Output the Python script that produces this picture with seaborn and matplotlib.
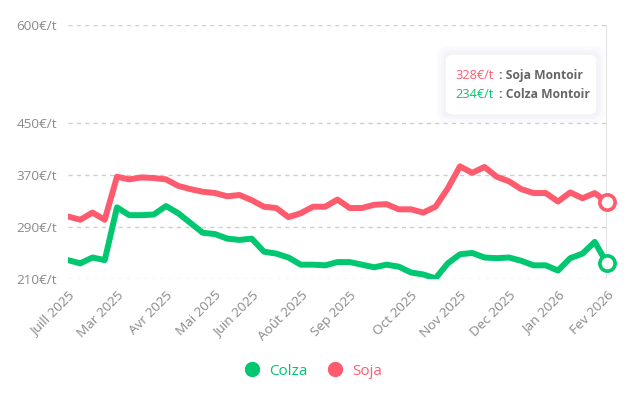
import numpy as np
import pandas as pd
import matplotlib.pyplot as plt
import seaborn as sns
from matplotlib.lines import Line2D
from matplotlib.patches import FancyBboxPatch

# weekly prices, €/t
soja = [306, 301, 312, 301, 367, 363, 366, 365, 363, 353, 348, 344, 342, 337, 339,
        331, 321, 319, 305, 311, 321, 321, 332, 319, 319, 324, 325, 317, 317, 312,
        321, 349, 383, 373, 382, 367, 360, 348, 342, 342, 329, 343, 334, 342, 328]
colza = [239, 234, 243, 239, 320, 308, 308, 309, 322, 311, 296, 281, 279, 272, 270,
         272, 252, 249, 243, 232, 232, 231, 236, 236, 232, 228, 232, 229, 220, 217,
         211, 234, 248, 250, 243, 242, 243, 238, 231, 231, 223, 242, 249, 267, 234]
tick_pos = [0, 4, 8, 12, 15, 19, 23, 28, 32, 36, 40, 44]
tick_labels = ["Juill 2025", "Mar 2025", "Avr 2025", "Mai 2025", "Juin 2025", "Août 2025",
               "Sep 2025", "Oct 2025", "Nov 2025", "Dec 2025", "Jan 2026", "Fev 2026"]
y_ticks = [210, 290, 370, 450, 600]

RED = "#ff5b6e"
GREEN = "#00c770"
GREY = "#8a8a8a"

n = len(soja)
df = pd.DataFrame({
    "idx": list(range(n)) * 2,
    "prix": colza + soja,
    "serie": ["Colza"] * n + ["Soja"] * n,
})

sns.set_style("white")
plt.rcParams['font.family'] = ['Open Sans', 'DejaVu Sans']

fig = plt.figure(figsize=(6.33, 3.97), dpi=100)
ax = fig.add_axes([0.1074, 0.2972, 0.8515, 0.6398])

sns.lineplot(data=df, x="idx", y="prix", hue="serie", palette={"Colza": GREEN, "Soja": RED},
             linewidth=4.3, ax=ax, legend=False, zorder=3)
for col, vals in [(RED, soja), (GREEN, colza)]:
    ax.plot(n - 1, vals[-1], 'o', ms=11, mfc="white", mec=col, mew=2.6, zorder=4, clip_on=False)

ax.set_ylim(210, 600)
ax.set_xlim(0, n - 1)
ax.set_yticks(y_ticks)
ax.set_yticklabels([f"{v}€/t" for v in y_ticks])
ax.set_xticks(tick_pos)
ax.set_xticklabels(tick_labels, rotation=45, ha="right", rotation_mode="anchor")
ax.tick_params(axis="y", length=0, pad=8, labelsize=9.7, labelcolor=GREY)
ax.tick_params(axis="x", length=4, width=0.8, color="#cccccc", pad=3, labelsize=9.7, labelcolor=GREY)
ax.set_xlabel("")
ax.set_ylabel("")
ax.grid(axis="y", color="#cfcfcf", linestyle=(0, (3, 3)), linewidth=1)
ax.grid(axis="x", visible=False)
for s in ax.spines.values():
    s.set_visible(False)
ax.axvline(n - 1, color="#dddddd", linewidth=1.2, zorder=1)

# tooltip
for grow, alpha in [(0.012, 0.25), (0.006, 0.45)]:
    fig.patches.append(FancyBboxPatch((0.703 - grow, 0.710 - grow * 1.6), 0.240 + 2 * grow, 0.154 + 3.2 * grow,
                                      boxstyle="round,pad=0,rounding_size=0.02", transform=fig.transFigure,
                                      fc="#eeeef8", ec="none", alpha=alpha, zorder=5))
fig.patches.append(FancyBboxPatch((0.703, 0.710), 0.240, 0.154, boxstyle="round,pad=0,rounding_size=0.015",
                                  transform=fig.transFigure, fc="white", ec="#f0f0f6", lw=0.8, zorder=6))
fig.text(0.719, 0.811, "328€/t", color=RED, fontsize=9.2, ha="left", va="center", zorder=7)
fig.text(0.789, 0.811, ": Soja Montoir", color="#666666", fontsize=8.7, fontweight="bold", ha="left", va="center", zorder=7)
fig.text(0.719, 0.761, "234€/t", color=GREEN, fontsize=9.2, ha="left", va="center", zorder=7)
fig.text(0.789, 0.761, ": Colza Montoir", color="#666666", fontsize=8.7, fontweight="bold", ha="left", va="center", zorder=7)

handles = [Line2D([], [], marker="o", ls="", color=GREEN, ms=10),
           Line2D([], [], marker="o", ls="", color=RED, ms=10)]
fig.legend(handles, ["Colza", "Soja"], loc="center", bbox_to_anchor=(0.489, 0.065), ncol=2,
           frameon=False, fontsize=11, labelcolor=[GREEN, RED], handletextpad=0.1, columnspacing=0.8)

fig.savefig("out.png", dpi=100)
